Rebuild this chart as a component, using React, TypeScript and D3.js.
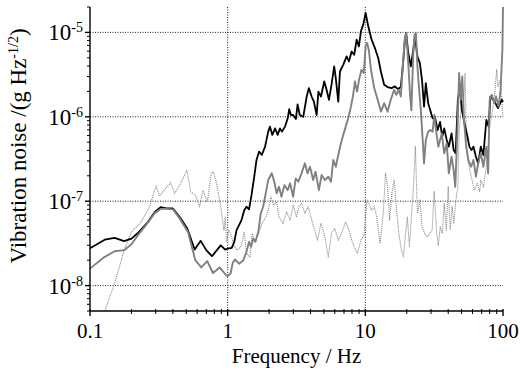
import * as d3 from "d3";

const W = 520;
const H = 380;
const plot = { left: 90, right: 503, top: 7, bottom: 311 };

const freqTicks = [0.1, 1, 10, 100];
const freqTickLabels = ["0.1", "1", "10", "100"];
const noiseTicks = [1e-8, 1e-7, 1e-6, 1e-5];
const noiseTickExponents = ["-8", "-7", "-6", "-5"];

// [frequency Hz, noise g/√Hz]
const noiseA: [number, number][] = [
  [0.1, 2.77e-8], [0.128, 3.5e-8], [0.151, 3.67e-8], [0.177, 3.36e-8], [0.2, 3.6e-8],
  [0.223, 4.2e-8], [0.264, 5.7e-8], [0.295, 7.4e-8], [0.326, 8.5e-8], [0.358, 8.2e-8],
  [0.401, 8.2e-8], [0.448, 6.5e-8], [0.509, 4.75e-8], [0.576, 2.67e-8], [0.637, 3.39e-8],
  [0.699, 2.63e-8], [0.769, 2.23e-8], [0.89, 3.0e-8], [0.96, 2.67e-8], [1.0, 2.75e-8],
  [1.07, 2.8e-8], [1.117, 3.3e-8], [1.16, 4.54e-8], [1.21, 5.2e-8], [1.26, 5.97e-8],
  [1.32, 7.8e-8], [1.37, 8.6e-8], [1.43, 8.0e-8], [1.49, 1.18e-7], [1.56, 1.95e-7],
  [1.62, 3.08e-7], [1.69, 3.86e-7], [1.77, 3.53e-7], [1.87, 4.43e-7], [1.97, 6.67e-7],
  [2.03, 7.65e-7], [2.11, 6.1e-7], [2.21, 7.3e-7], [2.31, 6.1e-7], [2.4, 7.3e-7],
  [2.48, 6.67e-7], [2.61, 7.65e-7], [2.73, 9.6e-7], [2.8, 1.23e-6], [2.88, 1.05e-6],
  [2.99, 1.05e-6], [3.13, 9.4e-7], [3.22, 1.4e-6], [3.34, 1.05e-6], [3.54, 1.0e-6],
  [3.75, 1.74e-6], [3.89, 2.19e-6], [4.07, 1.74e-6], [4.23, 1.51e-6], [4.43, 1.05e-6],
  [4.56, 1.99e-6], [4.76, 1.74e-6], [5.03, 2.62e-6], [5.23, 2.09e-6], [5.44, 1.59e-6],
  [5.68, 2.4e-6], [5.94, 3.95e-6], [6.1, 2.87e-6], [6.36, 1.51e-6], [6.54, 3.44e-6],
  [6.91, 4.13e-6], [7.31, 5.19e-6], [7.6, 4.53e-6], [7.95, 5.94e-6], [8.3, 5.43e-6],
  [8.65, 8.2e-6], [8.98, 6.82e-6], [9.29, 1.03e-5], [9.65, 1.23e-5], [10.05, 1.7e-5],
  [10.5, 1.18e-5], [11.1, 8.2e-6], [11.74, 6.53e-6], [12.4, 4.97e-6], [12.97, 3.44e-6],
  [13.7, 2.4e-6], [14.5, 2.25e-6], [15.5, 2.19e-6], [16.4, 2.29e-6], [17.3, 2.13e-6],
  [18.1, 2.25e-6], [18.8, 4.33e-6], [19.4, 8.2e-6], [19.8, 9.8e-6], [20.5, 5.7e-6],
  [21.4, 3.95e-6], [22.3, 6.2e-6], [22.9, 9.0e-6], [23.9, 5.19e-6], [24.9, 4.33e-6],
  [25.8, 2.74e-6], [26.7, 1.32e-6], [27.5, 2.5e-6], [28.6, 1.45e-6], [29.6, 1.2e-6],
  [30.8, 9.6e-7], [32, 1.0e-6], [33.5, 6.98e-7], [34.9, 8.7e-7], [36.2, 5.8e-7],
  [37.4, 7.3e-7], [39, 5.32e-7], [40.4, 4.43e-7], [42.3, 6.36e-7], [43.8, 4.04e-7],
  [45.3, 3.7e-7], [47, 1.59e-6], [48.6, 2.29e-6], [50.3, 1.2e-6], [52.5, 8.4e-7],
  [54.6, 6.36e-7], [57, 4.43e-7], [59, 4.04e-7], [61, 4.43e-7], [63.6, 3.37e-7],
  [66, 2.81e-7], [69, 4.43e-7], [72, 3.53e-7], [75.7, 9.2e-7], [78.7, 7.65e-7],
  [81, 1.74e-6], [85, 1.59e-6], [88, 1.45e-6], [92, 1.27e-6], [95.5, 1.45e-6],
  [98, 1.59e-6], [100, 1.5e-6],
];

const noiseB: [number, number][] = [
  [0.1, 1.59e-8], [0.128, 2.19e-8], [0.151, 2.55e-8], [0.177, 2.63e-8], [0.2, 3.09e-8],
  [0.223, 3.95e-8], [0.264, 5.6e-8], [0.295, 7.2e-8], [0.326, 8.1e-8], [0.358, 8.1e-8],
  [0.401, 8.0e-8], [0.448, 6.25e-8], [0.515, 4.33e-8], [0.582, 2.0e-8], [0.643, 1.64e-8],
  [0.711, 1.95e-8], [0.782, 1.41e-8], [0.875, 1.64e-8], [0.977, 1.32e-8], [1.0, 1.3e-8],
  [1.05, 1.39e-8], [1.09, 1.87e-8], [1.13, 2.04e-8], [1.21, 1.82e-8], [1.3, 2.0e-8],
  [1.37, 2.51e-8], [1.43, 3.3e-8], [1.48, 2.88e-8], [1.53, 3.6e-8], [1.59, 3.3e-8],
  [1.67, 4.33e-8], [1.74, 7.16e-8], [1.81, 8.6e-8], [1.88, 1.18e-7], [1.97, 1.78e-7],
  [2.09, 2.14e-7], [2.18, 1.7e-7], [2.27, 1.24e-7], [2.36, 1.48e-7], [2.46, 1.13e-7],
  [2.58, 1.55e-7], [2.73, 1.35e-7], [2.84, 1.63e-7], [2.99, 1.13e-7], [3.12, 1.86e-7],
  [3.26, 1.7e-7], [3.44, 2.14e-7], [3.64, 2.81e-7], [3.8, 2.14e-7], [3.96, 2.56e-7],
  [4.18, 1.78e-7], [4.35, 2.23e-7], [4.6, 1.35e-7], [4.81, 2.04e-7], [5.09, 1.78e-7],
  [5.38, 1.95e-7], [5.63, 1.7e-7], [5.85, 3.08e-7], [6.1, 2.56e-7], [6.36, 3.53e-7],
  [6.65, 4.86e-7], [6.91, 6.1e-7], [7.2, 7.65e-7], [7.51, 9.6e-7], [7.86, 1.32e-6],
  [8.16, 1.82e-6], [8.4, 2.62e-6], [8.71, 1.99e-6], [9.0, 2.74e-6], [9.38, 3.6e-6],
  [9.74, 3.3e-6], [10.05, 6.82e-6], [10.3, 7.48e-6], [10.6, 6.2e-6], [11.0, 3.6e-6],
  [11.6, 2.19e-6], [12.3, 1.59e-6], [13.0, 1.15e-6], [13.7, 1.45e-6], [14.5, 1.15e-6],
  [15.3, 1.59e-6], [16.2, 2.09e-6], [16.8, 1.82e-6], [17.5, 2.09e-6], [18.1, 1.74e-6],
  [18.7, 3.95e-6], [19.4, 9.0e-6], [19.8, 9.8e-6], [20.5, 4.33e-6], [21.1, 1.9e-6],
  [21.6, 1.2e-6], [22.3, 5.7e-6], [22.8, 9.4e-6], [23.3, 9.8e-6], [23.9, 3.95e-6],
  [24.6, 2.09e-6], [25.3, 1.2e-6], [26.1, 5.32e-7], [26.7, 2.81e-7], [27.5, 5.32e-7],
  [28.6, 6.67e-7], [29.6, 6.98e-7], [30.8, 6.67e-7], [31.7, 1.05e-6], [32.8, 6.5e-7],
  [33.9, 4.43e-7], [35.9, 6.36e-7], [37.4, 3.7e-7], [39, 4.86e-7], [40.4, 2.14e-7],
  [42.3, 3.37e-7], [43.8, 2.34e-7], [45, 1.48e-7], [46.6, 6.36e-7], [48, 3.3e-6],
  [49.4, 1.59e-6], [50.6, 3.0e-6], [52.1, 9.2e-7], [54, 4.43e-7], [56, 3.08e-7],
  [58.6, 2.56e-7], [61, 3.08e-7], [63.6, 1.95e-7], [66, 2.81e-7], [69, 3.7e-7],
  [72, 2.56e-7], [75.7, 4.43e-7], [78, 2.14e-7], [80, 1.59e-6], [83, 1.82e-6],
  [86.5, 1.45e-6], [89, 1.74e-6], [93, 1.32e-6], [96, 2.09e-6], [99, 6.2e-6],
  [100, 2.0e-5],
];

const noiseC: [number, number][] = [
  [0.125, 4.5e-9], [0.151, 1.06e-8], [0.177, 2.63e-8], [0.2, 4.33e-8], [0.236, 5.7e-8],
  [0.271, 8.6e-8], [0.295, 1.35e-7], [0.303, 1.51e-7], [0.319, 1.15e-7], [0.349, 1.38e-7],
  [0.385, 1.66e-7], [0.412, 1.24e-7], [0.448, 1.55e-7], [0.487, 2.04e-7], [0.505, 2.34e-7],
  [0.539, 1.29e-7], [0.582, 1.18e-7], [0.626, 8.6e-8], [0.662, 1.35e-7], [0.711, 9.8e-8],
  [0.76, 2.14e-7], [0.786, 2.23e-7], [0.832, 1.62e-7], [0.898, 7.8e-8], [0.94, 4.5e-8],
  [0.96, 6.5e-8], [0.98, 3.3e-8], [1.02, 4.54e-8], [1.07, 3.78e-8], [1.117, 2.88e-8],
  [1.18, 2.63e-8], [1.26, 3.0e-8], [1.32, 4.33e-8], [1.37, 2.4e-8], [1.45, 2.19e-8],
  [1.51, 4.15e-8], [1.58, 3.3e-8], [1.67, 4.15e-8], [1.78, 5.45e-8], [1.87, 6.25e-8],
  [1.97, 7.8e-8], [2.06, 1.13e-7], [2.15, 9.0e-8], [2.27, 9.8e-8], [2.36, 6.5e-8],
  [2.53, 5.45e-8], [2.68, 7.5e-8], [2.84, 5.97e-8], [2.99, 9.0e-8], [3.16, 6.5e-8],
  [3.29, 8.6e-8], [3.44, 9.4e-8], [3.64, 7.2e-8], [3.85, 8.6e-8], [4.07, 6.0e-8],
  [4.29, 4.54e-8], [4.49, 3.45e-8], [4.76, 5.45e-8], [5.09, 3.78e-8], [5.38, 2.19e-8],
  [5.68, 4.15e-8], [6.0, 4.75e-8], [6.36, 3.45e-8], [6.71, 4.15e-8], [7.2, 5.7e-8],
  [7.6, 4.54e-8], [7.95, 3.45e-8], [8.3, 2.88e-8], [8.76, 2.4e-8], [9.29, 3.45e-8],
  [9.79, 3.95e-8], [10.0, 6.0e-8], [10.3, 1.03e-7], [10.6, 9.4e-8], [11.1, 7.8e-8],
  [11.6, 8.6e-8], [12.1, 6.5e-8], [12.8, 3.15e-8], [13.5, 7.2e-8], [14.0, 2.14e-7],
  [14.5, 1.48e-7], [15.0, 6.0e-8], [15.6, 1.24e-7], [16.2, 1.78e-7], [16.8, 8.6e-8],
  [17.5, 4.15e-8], [18.3, 2.63e-8], [18.9, 2.19e-8], [19.6, 4.15e-8], [20.2, 6.5e-8],
  [20.9, 2.88e-8], [21.6, 6.5e-8], [22.4, 1.48e-7], [23.1, 4.43e-7], [23.9, 7.2e-8],
  [24.9, 1.03e-7], [25.8, 5.0e-8], [27.0, 4.15e-8], [28.2, 3.78e-8], [29.3, 4.15e-8],
  [30.6, 4.54e-8], [31.6, 1.3e-7], [33.0, 4.15e-8], [33.9, 3.0e-8], [35, 5.0e-8],
  [36.2, 4.15e-8], [37.4, 9.4e-8], [38.7, 4.54e-8], [40, 1.48e-7], [41.3, 4.54e-8],
  [42.7, 8.6e-8], [44, 5.45e-8], [45.5, 1.03e-7], [47, 1.48e-7], [48, 6.36e-7],
  [49.9, 1.59e-6], [51.5, 1.2e-6], [53, 3.3e-6], [54.3, 4.86e-7], [55.5, 3.08e-7],
  [58, 2.14e-7], [60, 1.7e-7], [62, 1.35e-7], [65, 1.62e-7], [67.7, 1.29e-7],
  [69, 1.78e-7], [72, 1.48e-7], [75.7, 2.56e-7], [78, 4.43e-7], [80, 7.65e-7],
  [84, 1.2e-6], [87, 1.9e-6], [90, 3.6e-6], [92, 2.29e-6], [95.5, 2.74e-6],
  [98, 1.59e-6], [99.8, 1.0e-6],
];

const FONT = "Liberation Serif";

export default function App() {
  const x = d3.scaleLog().domain([0.1, 100]).range([plot.left, plot.right]);
  const y = d3.scaleLog().domain([5e-9, 2e-5]).range([plot.bottom, plot.top]);

  const line = d3
    .line<[number, number]>()
    .x((d) => x(d[0]))
    .y((d) => y(d[1]));

  const xMinor = x.ticks().filter((t) => !freqTicks.some((m) => Math.abs(m - t) / m < 1e-6));
  const yMinor = y.ticks().filter((t) => !noiseTicks.some((m) => Math.abs(m - t) / m < 1e-6));

  return (
    <svg width={W} height={H} style={{ position: "absolute", left: 0, top: 0, background: "#fff" }}>
      <defs>
        <clipPath id="plotArea">
          <rect x={plot.left} y={plot.top - 1} width={plot.right - plot.left + 2} height={plot.bottom - plot.top + 1} />
        </clipPath>
      </defs>

      {/* grid */}
      <g stroke="#222" strokeWidth={1} strokeDasharray="1,1.5">
        {noiseTicks.map((t) => (
          <line key={"gy" + t} x1={plot.left} x2={plot.right} y1={y(t)} y2={y(t)} />
        ))}
        {[1, 10].map((t) => (
          <line key={"gx" + t} x1={x(t)} x2={x(t)} y1={plot.top} y2={plot.bottom} />
        ))}
      </g>

      {/* traces */}
      <g clipPath="url(#plotArea)" fill="none" strokeLinejoin="round">
        <path d={line(noiseC) ?? ""} stroke="#858585" strokeWidth={1.1} strokeDasharray="1,1" />
        <path d={line(noiseA) ?? ""} stroke="#000" strokeWidth={1.8} />
        <path d={line(noiseB) ?? ""} stroke="#808080" strokeWidth={1.9} />
      </g>

      {/* axes */}
      <g stroke="#000" strokeWidth={1.4}>
        <line x1={plot.left} x2={plot.left} y1={plot.top} y2={plot.bottom} />
        <line x1={plot.left} x2={plot.right} y1={plot.bottom} y2={plot.bottom} />
        {noiseTicks.map((t) => (
          <line key={"ty" + t} x1={plot.left - 5} x2={plot.left} y1={y(t)} y2={y(t)} />
        ))}
        {yMinor.map((t) => (
          <line key={"my" + t} x1={plot.left - 3} x2={plot.left} y1={y(t)} y2={y(t)} strokeWidth={1} />
        ))}
        {freqTicks.map((t) => (
          <line key={"tx" + t} x1={x(t)} x2={x(t)} y1={plot.bottom - 2} y2={plot.bottom + 5} />
        ))}
        {xMinor.map((t) => (
          <line key={"mx" + t} x1={x(t)} x2={x(t)} y1={plot.bottom - 2} y2={plot.bottom + 3} strokeWidth={1} />
        ))}
      </g>

      {/* tick labels */}
      <g fontFamily={FONT} fill="#000">
        {freqTicks.map((t, i) => (
          <text key={"lx" + t} x={x(t)} y={338} textAnchor="middle" fontSize={21}>
            {freqTickLabels[i]}
          </text>
        ))}
        {noiseTicks.map((t, i) => (
          <text key={"ly" + t} x={83} y={y(t) + 8} textAnchor="end" fontSize={23}>
            10
            <tspan dy={-8} fontSize={14}>
              {noiseTickExponents[i]}
            </tspan>
          </text>
        ))}

        {/* axis titles */}
        <text x={(plot.left + plot.right) / 2} y={363} textAnchor="middle" fontSize={21}>
          Frequency / Hz
        </text>
        <text transform="translate(26,146) rotate(-90)" textAnchor="middle" fontSize={23}>
          Vibration noise /(g Hz
          <tspan dy={-8} fontSize={14}>
            -1/2
          </tspan>
          <tspan dy={8}>)</tspan>
        </text>
      </g>
    </svg>
  );
}
